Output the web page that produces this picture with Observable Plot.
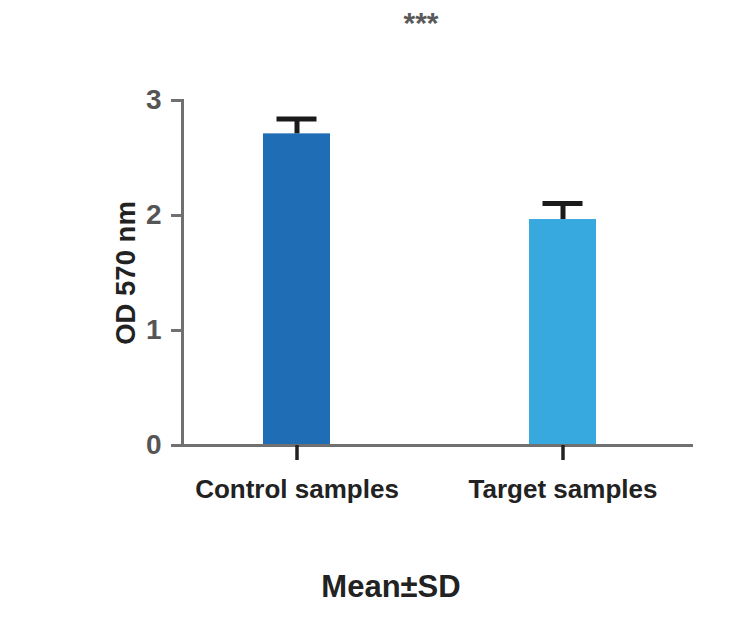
<!DOCTYPE html>
<html><head><meta charset="utf-8">
<script src="https://cdn.jsdelivr.net/npm/d3@7"></script>
<script src="https://cdn.jsdelivr.net/npm/@observablehq/plot@0.6"></script>
<style>
body{margin:0;background:#fff;}
#wrap{position:relative;width:745px;height:635px;font-family:"Liberation Sans",Arial,sans-serif;}
#stars{position:absolute;left:321px;width:200px;top:8px;text-align:center;font-size:30px;line-height:1;font-weight:bold;color:#5a5a5a;}
#title{position:absolute;left:241px;width:300px;top:571px;text-align:center;font-size:31px;line-height:1;font-weight:bold;color:#222;}
#chart{position:absolute;left:0;top:0;}
[aria-label="y-axis tick label"]{fill:#555;}
[aria-label="x-axis tick label"]{fill:#222;}
[aria-label="y-axis label"]{fill:#222;}
[aria-label="y-axis label"] text{font-size:27.5px;}
</style>
</head><body>
<div id="wrap">
<div id="chart"></div>
<div id="stars">***</div>
<div id="title">Mean±SD</div>
</div>
<script>
const categories = ["Control samples", "Target samples"];
const means = [2.71, 1.965];
const sds = [0.13, 0.14];
const barColors = ["#1f6db5", "#37a9df"];
const yTicks = [0, 1, 2, 3];
const significance = "***";

const data = categories.map((c, i) => ({cat: c, mean: means[i], sd: sds[i], color: barColors[i]}));

const chart = Plot.plot({
  width: 745,
  height: 635,
  marginLeft: 182,
  marginRight: 52,
  marginTop: 100,
  marginBottom: 190,
  style: {fontFamily: '"Liberation Sans", Arial, sans-serif', background: "#fff"},
  x: {domain: categories, paddingInner: 0.748, paddingOuter: 0.3325, align: 0.455},
  y: {domain: [0, 3]},
  color: {type: "identity"},
  marks: [
    Plot.barY(data, {x: "cat", y: "mean", fill: "color"}),
    Plot.ruleX(data, {x: "cat", y1: "mean", y2: d => d.mean + d.sd, stroke: "#1a1a1a", strokeWidth: 5}),
    Plot.tickY(data, {x: "cat", y: d => d.mean + d.sd, stroke: "#1a1a1a", strokeWidth: 5, inset: 13.5}),
    Plot.frame({anchor: "left", stroke: "#707070", strokeWidth: 3}),
    Plot.ruleY([0], {stroke: "#707070", strokeWidth: 3}),
    Plot.axisY({ticks: yTicks, tickFormat: d3.format("d"), tickSize: 11, tickPadding: 10, stroke: "#707070", strokeWidth: 3,
      fontSize: 28, fontWeight: "bold", label: "OD 570 nm", labelAnchor: "center", labelOffset: 67, labelArrow: false}),
    Plot.axisX({tickSize: 15, tickPadding: 19, stroke: "#222", strokeWidth: 3.5, fontSize: 26, fontWeight: "bold", label: null})
  ]
});
document.getElementById("chart").appendChild(chart);
</script>
</body></html>
